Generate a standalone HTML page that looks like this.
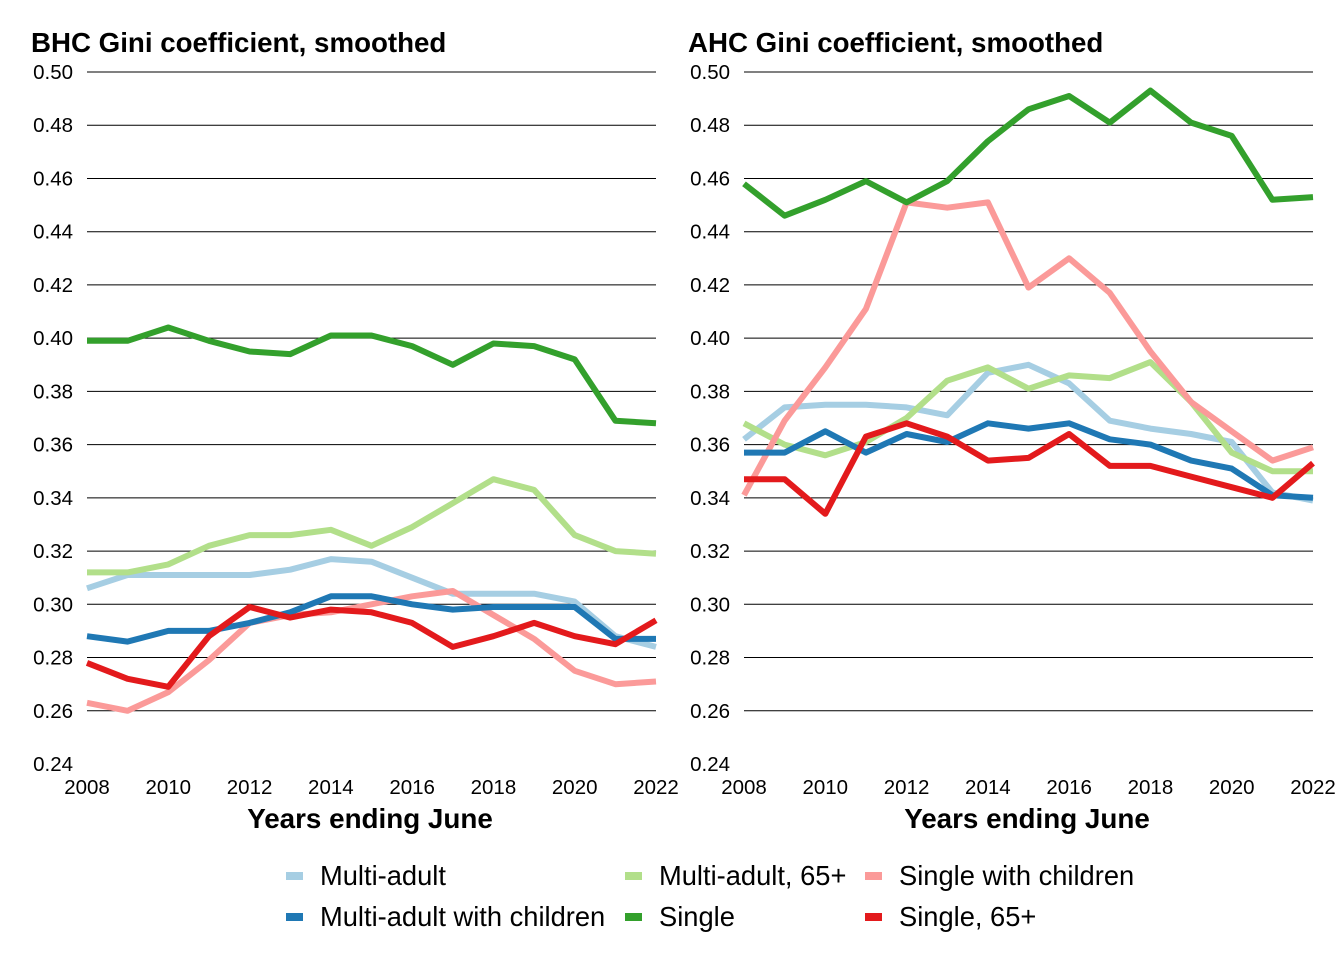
<!DOCTYPE html>
<html><head><meta charset="utf-8"><style>
body{margin:0;background:#fff;font-family:"Liberation Sans",Arial,sans-serif}
</style></head><body>
<svg id="c" width="1344" height="960" xmlns="http://www.w3.org/2000/svg"></svg>
<script>
const years=[2008,2009,2010,2011,2012,2013,2014,2015,2016,2017,2018,2019,2020,2021,2022];
const yTicks=[0.24,0.26,0.28,0.30,0.32,0.34,0.36,0.38,0.40,0.42,0.44,0.46,0.48,0.50];
const xTicks=[2008,2010,2012,2014,2016,2018,2020,2022];
const seriesNames=["Multi-adult","Multi-adult, 65+","Single with children","Multi-adult with children","Single","Single, 65+"];
const seriesColors=["#a6cee3","#b2df8a","#fb9a99","#1f78b4","#33a02c","#e31a1c"];
const bhcMultiAdult=[.306,.311,.311,.311,.311,.313,.317,.316,.310,.304,.304,.304,.301,.288,.284];
const bhcMultiAdult65=[.312,.312,.315,.322,.326,.326,.328,.322,.329,.338,.347,.343,.326,.320,.319];
const bhcSingleChildren=[.263,.260,.267,.279,.293,.296,.297,.300,.303,.305,.296,.287,.275,.270,.271];
const bhcMultiChildren=[.288,.286,.290,.290,.293,.297,.303,.303,.300,.298,.299,.299,.299,.287,.287];
const bhcSingle=[.399,.399,.404,.399,.395,.394,.401,.401,.397,.390,.398,.397,.392,.369,.368];
const bhcSingle65=[.278,.272,.269,.288,.299,.295,.298,.297,.293,.284,.288,.293,.288,.285,.294];
const ahcMultiAdult=[.362,.374,.375,.375,.374,.371,.387,.390,.383,.369,.366,.364,.361,.342,.339];
const ahcMultiAdult65=[.368,.360,.356,.361,.370,.384,.389,.381,.386,.385,.391,.376,.357,.350,.350];
const ahcSingleChildren=[.341,.369,.389,.411,.451,.449,.451,.419,.430,.417,.395,.376,.365,.354,.359];
const ahcMultiChildren=[.357,.357,.365,.357,.364,.361,.368,.366,.368,.362,.360,.354,.351,.341,.340];
const ahcSingle=[.458,.446,.452,.459,.451,.459,.474,.486,.491,.481,.493,.481,.476,.452,.453];
const ahcSingle65=[.347,.347,.334,.363,.368,.363,.354,.355,.364,.352,.352,.348,.344,.340,.353];

const svg=document.getElementById('c');const NS="http://www.w3.org/2000/svg";
function mk(t,a,txt){const e=document.createElementNS(NS,t);for(const k in a)e.setAttribute(k,a[k]);if(txt!==undefined)e.textContent=txt;svg.appendChild(e);return e;}
const yScale=v=>72+(0.50-v)/0.26*692;
function panel(x0,title,data,key){
  const x1=x0+569;const xScale=y=>x0+(y-2008)/14*569;
  let t=mk('text',{x:x0-56,y:52,'font-size':27.7,'font-weight':'bold'},title);
  
  
  yTicks.forEach(v=>{
    if(v>0.24){let l=mk('line',{x1:x0,x2:x1,y1:yScale(v),y2:yScale(v),stroke:'#000','stroke-width':1});
    
    }
    let tx=mk('text',{x:x0-14,y:yScale(v)+7,'font-size':20.5,'text-anchor':'end'},v.toFixed(2));
    
    
  });
  xTicks.forEach(y=>{
    let tx=mk('text',{x:xScale(y),y:794,'font-size':20.5,'text-anchor':'middle'},String(y));
    
    
  });
  let at=mk('text',{x:x0+283,y:828,'font-size':27.8,'font-weight':'bold','text-anchor':'middle'},'Years ending June');
  
  
  data.forEach((s,i)=>{
    const pts=s.map((v,j)=>xScale(years[j]).toFixed(1)+','+yScale(v).toFixed(1)).join(' ');
    let p=mk('polyline',{points:pts,fill:'none',stroke:seriesColors[i],'stroke-width':6,'stroke-linejoin':'round'});
    
    
  });
}
panel(87,'BHC Gini coefficient, smoothed',[bhcMultiAdult,bhcMultiAdult65,bhcSingleChildren,bhcMultiChildren,bhcSingle,bhcSingle65],'bhc');
panel(744,'AHC Gini coefficient, smoothed',[ahcMultiAdult,ahcMultiAdult65,ahcSingleChildren,ahcMultiChildren,ahcSingle,ahcSingle65],'ahc');
const legPos=[[286,876,0],[625,876,1],[865,876,2],[286,917,3],[625,917,4],[865,917,5]];
legPos.forEach(([x,y,i])=>{
  let r=mk('rect',{x:x,y:y-4,width:17,height:8,fill:seriesColors[i]});
  
  
  let t=mk('text',{x:x+34,y:y+9,'font-size':27.3},seriesNames[i]);
  
  
});
</script>
</body></html>
